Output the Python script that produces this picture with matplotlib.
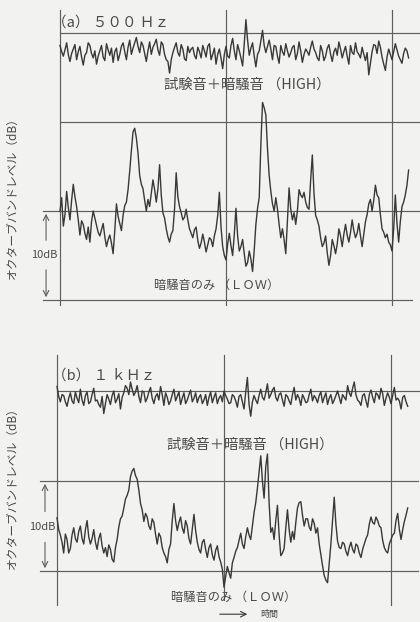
import numpy as np
import matplotlib
matplotlib.use('Agg')
import matplotlib.pyplot as plt

plt.rcParams['font.family'] = ['Noto Sans CJK JP', 'DejaVu Sans']

# 時間（サンプル番号）: 整数点と中間点
t = np.arange(0, 105.01, 0.5)

# (a) 500 Hz  試験音＋暗騒音 (HIGH)
high_a = [28.6, 27.4, 28.9, 26.8, 28.2, 27.0, 28.5, 26.4, 27.8, 28.6,
          27.2, 26.5, 28.0, 27.3, 28.8, 27.5, 26.7, 28.3, 27.6, 28.9,
          27.0, 29.2, 28.3, 29.5, 27.8, 28.6, 26.8, 29.0, 28.4, 29.3,
          27.5, 28.7, 27.0, 25.5, 27.8, 28.9, 27.4, 28.2, 26.9, 27.8,
          28.4, 27.1, 27.9, 28.6, 27.3, 28.8, 27.6, 26.5, 28.2, 26.0,
          28.5, 27.2, 29.4, 27.0, 28.0, 26.3, 31.5, 27.5, 28.9, 26.2,
          28.0, 30.3, 27.8, 29.2, 27.0, 28.5, 26.6, 27.9, 28.8, 27.3,
          28.4, 27.0, 29.0, 26.7, 28.2, 27.5, 29.1, 27.8, 26.9, 28.0,
          27.4, 28.7, 26.8, 28.3, 29.0, 27.2, 28.5, 26.5, 27.8, 28.9,
          27.6, 28.4, 26.9, 25.3, 27.9, 28.6, 29.1, 27.3, 25.8, 28.2,
          27.0, 28.8, 27.4, 26.6, 28.3, 27.2]
high_a_mid = [27.9, 28.1, 27.6, 27.7, 28.7, 27.9, 27.3, 27.5, 28.9, 27.7,
              28.0, 27.4, 28.6, 26.9, 28.1, 28.3, 27.9, 26.9, 28.5, 27.9,
              28.4, 27.6, 28.9, 28.5, 29.0, 27.7, 28.0, 27.6, 28.8, 28.1,
              29.0, 27.6, 26.8, 27.0, 28.4, 27.8, 28.7, 27.1, 28.5, 28.2,
              27.5, 28.4, 27.2, 28.0, 28.5, 27.0, 28.3, 27.6, 27.2, 27.6,
              27.4, 28.6, 28.0, 28.7, 27.2, 28.8, 29.2, 28.3, 27.4, 27.6,
              29.1, 28.6, 28.5, 28.2, 28.6, 27.4, 28.6, 27.5, 28.0, 27.8,
              28.6, 27.7, 28.0, 27.6, 27.9, 28.4, 28.2, 27.2, 28.6, 26.9,
              28.3, 27.6, 27.9, 27.5, 28.2, 27.9, 27.4, 28.6, 27.6, 27.9,
              27.2, 27.6, 27.8, 26.6, 28.7, 27.7, 28.4, 26.5, 27.3, 27.6,
              27.9, 28.1, 27.0, 27.7, 28.0]

# (a) 500 Hz  暗騒音のみ (LOW)
low_a = [10.0, 8.3, 12.2, 9.0, 13.0, 10.5, 7.3, 8.5, 6.8, 6.5,
         10.0, 8.4, 7.2, 8.6, 6.0, 7.3, 5.2, 10.8, 8.6, 9.5,
         11.0, 14.5, 18.9, 18.2, 14.0, 12.5, 10.0, 10.5, 13.5, 11.0,
         15.2, 9.8, 8.0, 6.5, 7.8, 14.3, 10.5, 9.0, 10.2, 8.0,
         7.0, 8.2, 5.8, 7.4, 5.4, 7.0, 6.0, 8.0, 12.1, 6.0,
         4.5, 7.5, 5.0, 10.3, 5.5, 6.8, 3.8, 5.5, 3.2, 8.5,
         11.5, 22.2, 20.8, 14.0, 10.8, 11.5, 8.5, 8.0, 5.2, 12.6,
         9.0, 8.5, 12.4, 11.5, 11.0, 10.2, 16.3, 9.5, 8.3, 6.0,
         7.2, 3.9, 6.8, 5.2, 8.0, 6.0, 8.5, 6.5, 9.0, 7.0,
         8.6, 6.0, 8.8, 10.8, 10.0, 12.9, 11.5, 8.0, 7.0, 6.5,
         5.5, 11.8, 6.5, 10.5, 11.8, 14.6]
low_a_mid = [11.5, 9.6, 10.4, 11.2, 11.6, 9.0, 8.9, 7.5, 8.2, 8.8,
             9.2, 7.6, 7.9, 7.1, 6.8, 6.4, 7.8, 9.4, 7.8, 10.6,
             12.4, 16.8, 19.3, 16.5, 13.0, 11.2, 11.3, 12.0, 12.4, 12.5,
             11.8, 9.2, 7.1, 7.4, 10.2, 11.6, 9.8, 9.3, 9.0, 7.5,
             7.9, 6.7, 6.4, 6.5, 6.2, 6.8, 7.2, 9.5, 8.2, 5.0,
             6.3, 6.1, 7.4, 7.2, 6.0, 5.2, 4.2, 4.6, 5.6, 10.3,
             17.5, 21.6, 17.0, 12.2, 10.0, 10.2, 7.0, 6.8, 9.0, 10.2,
             9.8, 10.0, 11.8, 12.1, 10.4, 13.5, 12.0, 9.0, 7.0, 6.4,
             5.3, 5.0, 6.1, 6.3, 7.2, 7.4, 7.3, 7.6, 7.8, 7.5,
             7.2, 7.4, 9.6, 11.3, 11.2, 11.8, 9.6, 7.6, 7.4, 6.2,
             8.0, 8.6, 8.8, 11.0, 12.9]

# (b) 1 kHz  試験音＋暗騒音 (HIGH)
high_b = [20.5, 18.8, 19.5, 18.3, 19.8, 18.6, 19.2, 20.2, 18.4, 19.9,
          18.8, 20.3, 19.0, 18.2, 17.5, 19.6, 18.5, 20.0, 19.1, 18.0,
          19.8, 20.3, 21.0, 19.5, 20.6, 18.7, 19.9, 19.2, 20.4, 18.6,
          19.7, 20.5, 18.4, 19.3, 18.9, 20.2, 19.4, 18.5, 19.8, 19.0,
          20.1, 19.2, 18.7, 19.6, 19.0, 18.4, 19.9, 19.3, 18.6, 19.5,
          20.0, 19.1, 18.7, 19.4, 18.2, 19.6, 18.0, 21.5, 17.2, 19.5,
          18.6, 20.2, 19.0, 20.8, 19.6, 20.4, 18.9, 19.8, 18.3, 19.4,
          18.5, 20.4, 19.6, 18.4, 19.2, 18.8, 20.2, 19.5, 18.7, 19.9,
          19.3, 18.5, 19.6, 19.0, 20.0, 18.6, 19.3, 20.6, 19.4, 21.0,
          19.0, 18.4, 19.7, 18.2, 20.1, 18.7, 19.6, 20.3, 18.4, 19.8,
          18.6, 20.4, 19.2, 18.0, 19.5, 18.3]
high_b_mid = [19.4, 19.6, 18.8, 19.2, 18.9, 19.9, 18.7, 19.0, 19.5, 18.6,
              19.6, 18.9, 18.5, 19.4, 18.6, 19.1, 19.5, 18.7, 19.7, 19.3,
              20.6, 19.6, 20.2, 19.9, 19.4, 20.0, 18.8, 19.9, 19.2, 19.4,
              19.0, 19.6, 19.8, 18.5, 19.6, 18.9, 19.9, 19.2, 18.6, 19.6,
              18.8, 19.8, 19.3, 18.6, 19.6, 19.3, 18.7, 19.8, 19.2, 18.8,
              19.5, 18.6, 19.6, 18.9, 19.4, 18.8, 19.9, 18.5, 18.8, 19.0,
              19.5, 19.3, 19.8, 19.2, 20.1, 19.3, 19.6, 19.0, 19.6, 18.9,
              19.6, 19.0, 19.2, 19.6, 18.7, 19.6, 18.9, 19.2, 19.5, 18.7,
              19.8, 19.2, 18.6, 19.5, 19.3, 19.6, 19.0, 19.8, 20.3, 19.6,
              18.8, 19.5, 18.9, 19.6, 19.3, 19.8, 19.1, 19.7, 19.2, 19.3,
              19.5, 19.0, 18.9, 19.3, 18.8]

# (b) 1 kHz  暗騒音のみ (LOW)
low_b = [5.9, 4.0, 2.0, 3.5, 2.5, 4.8, 3.2, 5.0, 3.0, 5.6,
         3.0, 4.6, 2.4, 4.2, 2.0, 1.6, 2.4, 1.0, 3.5, 5.8,
         7.0, 8.4, 10.5, 11.4, 10.2, 7.5, 5.5, 6.0, 4.6, 5.4,
         3.0, 3.8, 2.0, 0.9, 3.0, 7.5, 4.5, 6.0, 4.2, 5.0,
         3.0, 6.3, 3.2, 2.0, 3.5, 1.5, 3.0, 1.2, 2.8, 1.0,
         -1.8, 0.5, -0.8, 1.5, 2.6, 4.2, 2.5, 4.8, 3.5, 6.5,
         9.2, 12.8, 8.1, 13.0, 4.3, 3.5, 7.3, 1.7, 2.5, 6.8,
         3.2, 3.5, 7.0, 7.7, 5.0, 5.8, 4.5, 5.3, 4.8, 1.8,
         -0.5, -1.3, 3.0, 8.2, 3.3, 2.5, 3.0, 1.7, 3.2, 2.0,
         2.8, 1.5, 3.0, 4.0, 6.0, 5.2, 5.6, 4.8, 2.6, 2.0,
         3.5, 4.2, 6.4, 3.5, 5.5, 7.0]
low_b_mid = [4.6, 3.2, 4.1, 2.0, 4.0, 3.6, 4.4, 3.6, 4.6, 3.8,
             3.6, 3.2, 3.6, 2.8, 2.6, 2.9, 1.3, 2.6, 4.9, 6.1,
             8.0, 9.0, 11.1, 10.6, 9.0, 6.8, 6.4, 5.0, 5.8, 4.1,
             4.2, 2.6, 1.6, 2.4, 5.6, 5.6, 5.4, 4.8, 5.6, 3.6,
             4.6, 4.5, 2.4, 3.2, 2.4, 2.6, 1.8, 2.3, 1.6, 0.2,
             -0.6, -0.2, 0.9, 2.2, 3.4, 3.0, 3.8, 4.0, 5.0, 7.6,
             11.0, 10.0, 11.6, 7.6, 4.8, 5.6, 4.0, 2.0, 4.8, 4.6,
             4.4, 5.4, 7.6, 6.2, 5.8, 4.9, 5.8, 4.2, 3.0, 0.6,
             -1.0, 0.8, 5.6, 5.2, 2.6, 3.2, 2.2, 2.6, 2.4, 3.0,
             2.0, 2.4, 3.6, 5.2, 5.4, 6.0, 5.0, 3.4, 2.2, 3.0,
             4.0, 5.6, 4.6, 4.6, 6.2]


def interleave(main, mid):
    out = np.empty(len(main) + len(mid))
    out[0::2] = main
    out[1::2] = mid
    return out


bg = '#f2f2f0'
frame = '#5e5e5e'
trace = '#383838'
txt = '#4a4a4a'

fig = plt.figure(figsize=(4.2, 6.22), dpi=100, facecolor=bg)

# ---- (a) 500 Hz ----
ax1 = fig.add_axes([0, 0.5, 1, 0.5])
ax1.set_facecolor(bg)
ax1.set_xlim(-18.07, 108.43)
ax1.set_ylim(-1.236, 33.71)
ax1.axis('off')

for xv in [0, 50, 100]:
    ax1.plot([xv, xv], [-0.6, 32.6], color=frame, lw=0.85)
ax1.plot([0, 108.4], [30, 30], color=frame, lw=0.85)
ax1.plot([0, 108.4], [20, 20], color=frame, lw=0.85)
ax1.plot([-5.1, 108.4], [10, 10], color=frame, lw=0.85)
ax1.plot([-5.1, 106], [0, 0], color=frame, lw=0.85)

ax1.plot(t, interleave(high_a, high_a_mid), color=trace, lw=1.0)
ax1.plot(t, interleave(low_a, low_a_mid), color=trace, lw=1.0)

ax1.text(-2.3, 31.2, '（a） ５００ Ｈｚ', fontsize=10.5, color=txt, va='center', ha='left')
ax1.text(56.3, 24.2, '試験音＋暗騒音 （HIGH）', fontsize=10.3, color=txt, va='center', ha='center')
ax1.text(47.3, 1.7, '暗騒音のみ （ＬＯＷ）', fontsize=8.8, color=txt, va='center', ha='center')
ax1.text(-14.5, 11.8, 'オクターブバンドレベル（dB）', fontsize=8.5, color=txt,
         rotation=90, va='center', ha='center')
ax1.text(-4.8, 5.06, '10dB', fontsize=8, color=txt, va='center', ha='center')
ax1.annotate('', xy=(-4.2, 10), xytext=(-4.2, 6.4),
             arrowprops=dict(arrowstyle='->', color=frame, lw=0.8))
ax1.annotate('', xy=(-4.2, 0), xytext=(-4.2, 3.7),
             arrowprops=dict(arrowstyle='->', color=frame, lw=0.8))

# ---- (b) 1 kHz ----
ax2 = fig.add_axes([0, 0, 1, 0.5])
ax2.set_facecolor(bg)
ax2.set_xlim(-17.07, 108.68)
ax2.set_ylim(-5.667, 28.89)
ax2.axis('off')

for xv, yb in [(0, -3.8), (50, -3.2), (100, -3.8)]:
    ax2.plot([xv, xv], [yb, 24.0], color=frame, lw=0.85)
ax2.plot([0, 108.7], [20, 20], color=frame, lw=0.85)
ax2.plot([-5.1, 108.1], [10, 10], color=frame, lw=0.85)
ax2.plot([-5.1, 108.1], [0, 0], color=frame, lw=0.85)

ax2.plot(t, interleave(high_b, high_b_mid), color=trace, lw=1.0)
ax2.plot(t, interleave(low_b, low_b_mid), color=trace, lw=1.0)

ax2.text(-1.6, 21.7, '（b） １ ｋＨｚ', fontsize=10.5, color=txt, va='center', ha='left')
ax2.text(57.8, 14.0, '試験音＋暗騒音 （HIGH）', fontsize=10.3, color=txt, va='center', ha='center')
ax2.text(53.0, -2.9, '暗騒音のみ （ＬＯＷ）', fontsize=8.8, color=txt, va='center', ha='center')
ax2.text(-13.5, 9.6, 'オクターブバンドレベル（dB）', fontsize=8.5, color=txt,
         rotation=90, va='center', ha='center')
ax2.text(-4.5, 4.9, '10dB', fontsize=8, color=txt, va='center', ha='center')
ax2.annotate('', xy=(-3.6, 10), xytext=(-3.6, 6.3),
             arrowprops=dict(arrowstyle='->', color=frame, lw=0.8))
ax2.annotate('', xy=(-3.6, 0), xytext=(-3.6, 3.5),
             arrowprops=dict(arrowstyle='->', color=frame, lw=0.8))
ax2.annotate('', xy=(57.8, -4.8), xytext=(47.9, -4.8),
             arrowprops=dict(arrowstyle='->', color=trace, lw=0.8))
ax2.text(63.5, -4.8, '時間', fontsize=6.5, color=txt, va='center', ha='center')

fig.savefig('out.png', dpi=100, facecolor=bg)
